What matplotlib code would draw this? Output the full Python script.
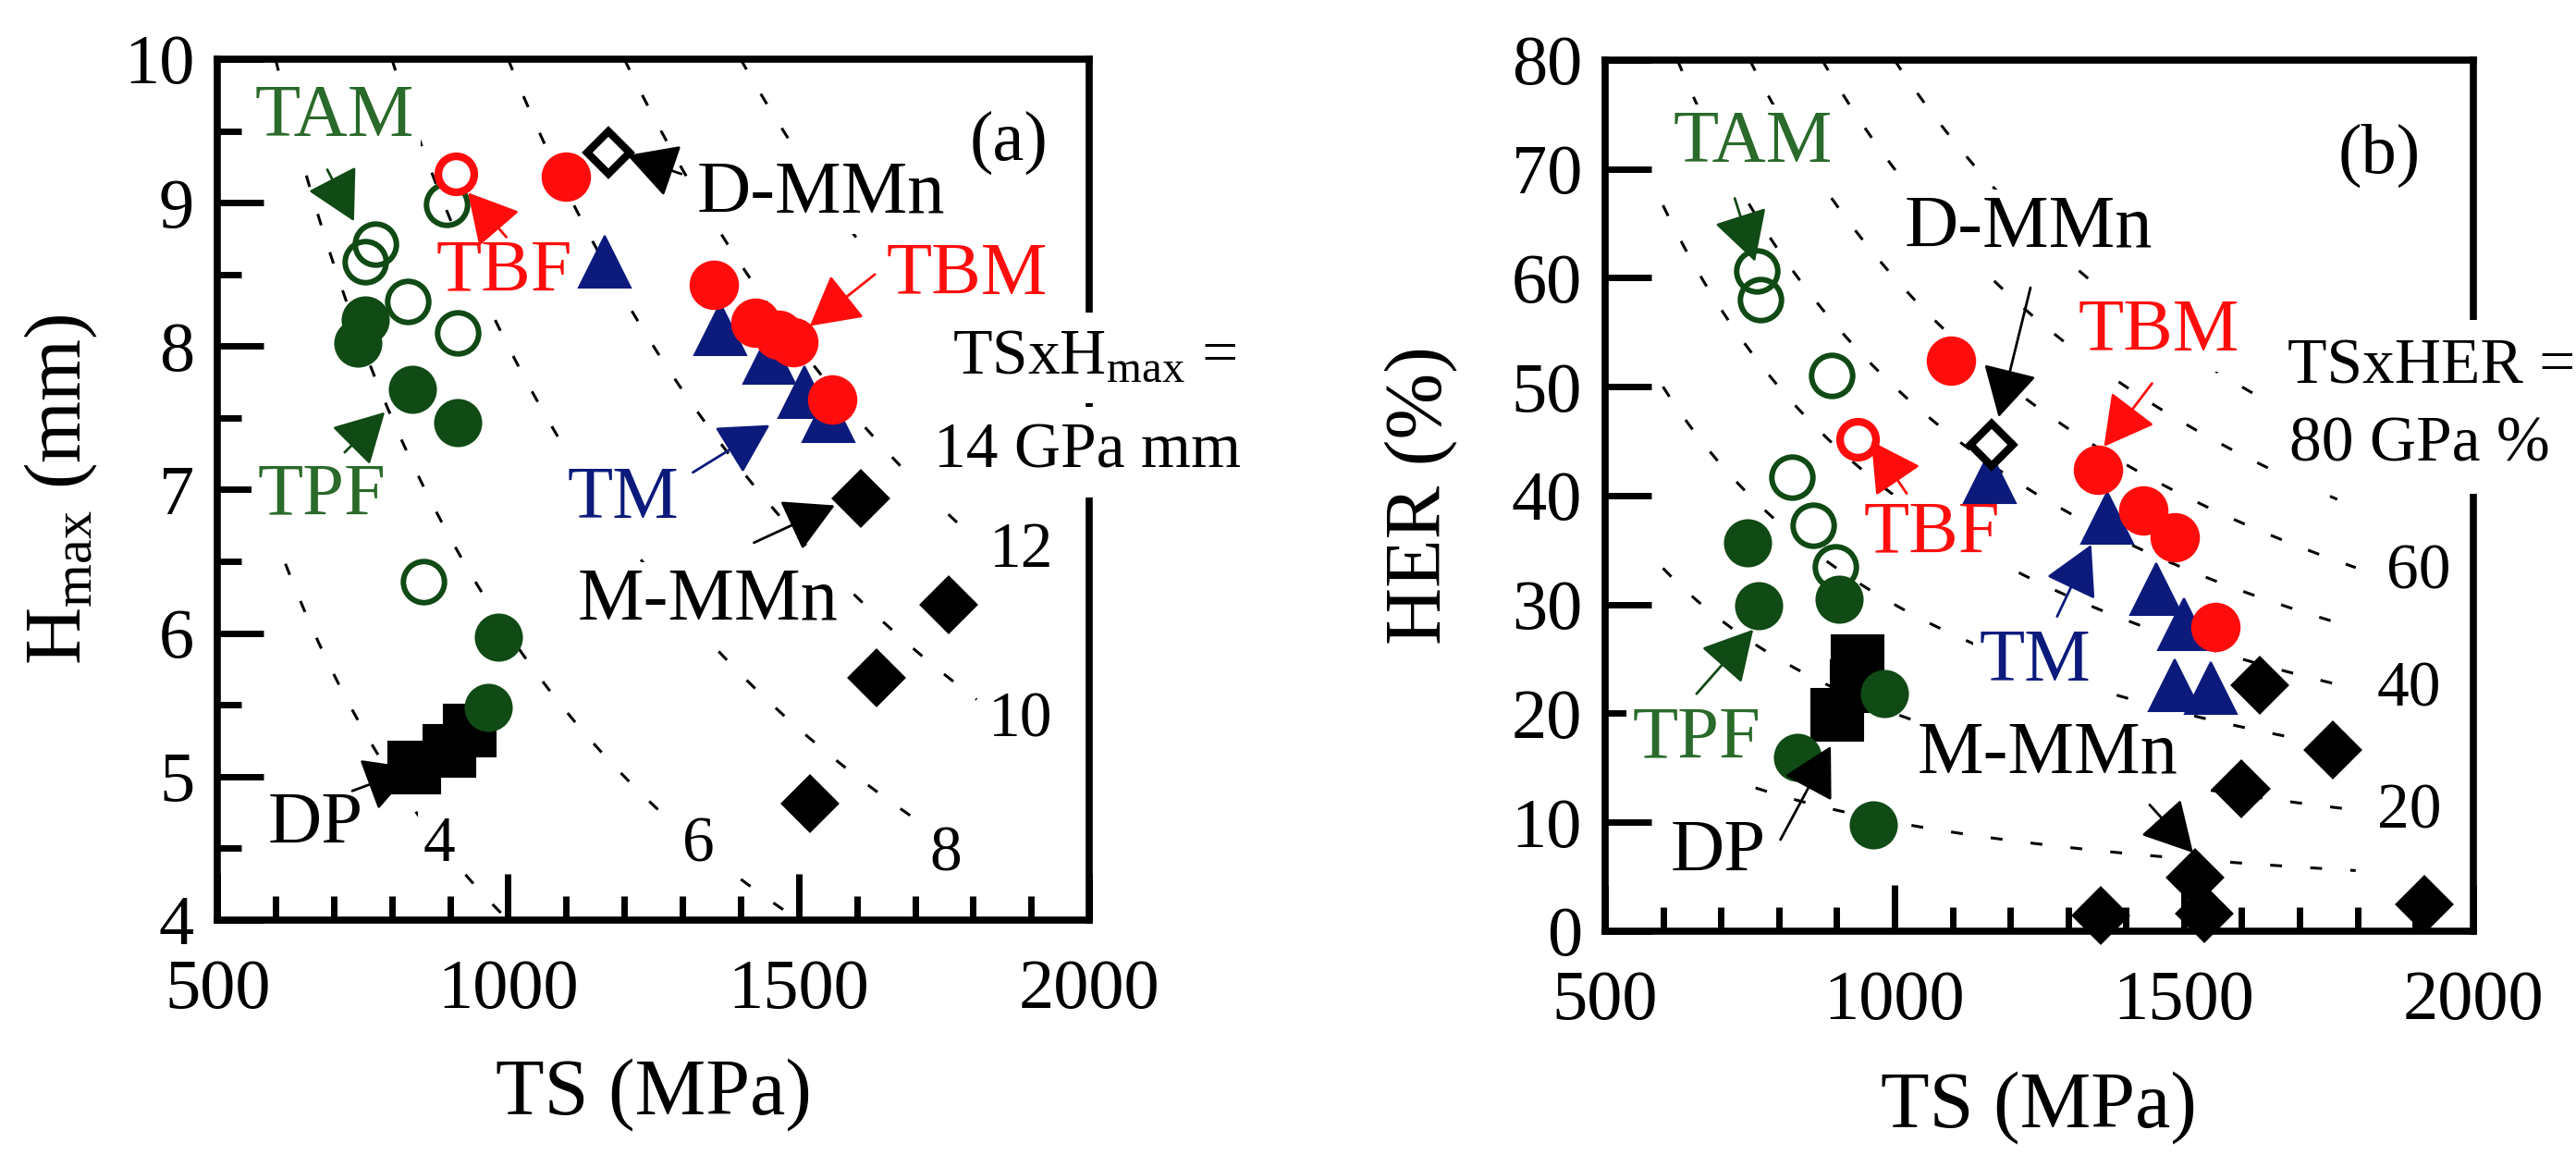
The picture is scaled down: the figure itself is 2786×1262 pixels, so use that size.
import numpy as np
import matplotlib
matplotlib.use("Agg")
import matplotlib.pyplot as plt

plt.rcParams['font.family'] = ['Liberation Serif', 'DejaVu Serif']
plt.rcParams['mathtext.fontset'] = 'custom'
plt.rcParams['mathtext.rm'] = 'Liberation Serif'
plt.rcParams['mathtext.it'] = 'Liberation Serif:italic'

GREEN = '#104a14'
GREEN_TXT = '#2a6a2a'
RED = '#ff0d0d'
BLUE = '#0c1a7c'

# ---------------- panel (a): TS vs Hmax ----------------
a_tam_ts = [772, 755, 894, 828, 914, 854]
a_tam_h = [8.71, 8.59, 8.99, 8.31, 8.09, 6.36]
a_tpf_ts = [755, 742, 835, 914, 984, 966]
a_tpf_h = [8.18, 8.02, 7.70, 7.47, 5.97, 5.48]
a_tbf_ts = [910]
a_tbf_h = [9.2]
a_tbm_ts = [1099, 1354, 1426, 1466, 1490, 1557]
a_tbm_h = [9.18, 8.43, 8.16, 8.08, 8.03, 7.63]
a_tm_ts = [1166, 1365, 1450, 1509, 1551]
a_tm_h = [8.59, 8.12, 7.92, 7.68, 7.51]
a_dmmn_ts = [1172]
a_dmmn_h = [9.35]
a_mmmn_ts = [1607, 1758, 1634, 1519]
a_mmmn_h = [6.94, 6.20, 5.69, 4.81]
a_dp_ts = [838, 899, 934]
a_dp_h = [5.06, 5.18, 5.32]

a_levels = [4, 6, 8, 10, 12, 14]          # TS x Hmax, GPa mm
a_lev_start = [617, 600, 800, 1000, 1200, 1400]
a_lev_end = [1000, 1500, 1722, 1806, 1797, 1620]

# ---------------- panel (b): TS vs HER ----------------
b_tam_ts = [762, 768, 891, 823, 859, 898]
b_tam_her = [60.6, 58.0, 51.0, 41.7, 37.3, 33.5]
b_tpf_ts = [746, 765, 905, 982, 832, 964]
b_tpf_her = [35.7, 29.9, 30.5, 21.8, 16.0, 9.8]
b_tbf_ts = [936]
b_tbf_her = [45.2]
b_tbm_ts = [1097, 1351, 1430, 1484, 1554]
b_tbm_her = [52.4, 42.4, 38.6, 36.2, 27.9]
b_tm_ts = [1164, 1367, 1453, 1500, 1484, 1546]
b_tm_her = [41.7, 38.0, 31.4, 28.2, 22.6, 22.3]
b_dmmn_ts = [1168]
b_dmmn_her = [44.7]
b_mmmn_ts = [1632, 1757, 1600, 1356, 1519, 1535, 1916]
b_mmmn_her = [22.6, 16.6, 13.1, 1.4, 4.9, 1.6, 2.5]
b_dp_ts = [936, 935, 901]
b_dp_her = [24.8, 22.5, 19.9]

b_levels = [10, 20, 30, 40, 50, 60, 70, 80]   # TS x HER, GPa %
b_lev_start = [760, 600, 600, 600, 625, 750, 875, 1000]
b_lev_end = [1797, 1797, 1720, 1773, 1781, 1797, 1765, 1656]

# annotation text: (text, x, y, colour)
a_labels = [('TAM', 702, 9.59, GREEN_TXT), ('TPF', 679, 6.95, GREEN_TXT),
            ('TBF', 993, 8.51, RED), ('D-MMn', 1538, 9.06, 'k'),
            ('TBM', 1789, 8.49, RED), ('TM', 1198, 6.93, BLUE),
            ('M-MMn', 1343, 6.22, 'k'), ('DP', 669, 4.66, 'k')]
b_labels = [('TAM', 756, 72.3, GREEN_TXT), ('TPF', 658, 17.6, GREEN_TXT),
            ('TBF', 1065, 36.4, RED), ('D-MMn', 1231, 64.5, 'k'),
            ('TBM', 1457, 55.0, RED), ('TM', 1243, 24.7, BLUE),
            ('M-MMn', 1265, 16.2, 'k'), ('DP', 696, 7.2, 'k')]
a_lev_labels = [('4', 882, 4.52), ('6', 1327, 4.52), ('8', 1753, 4.45),
                ('10', 1881, 5.39), ('12', 1883, 6.57)]
b_lev_labels = [('60', 1905, 32.9), ('40', 1889, 22.1), ('20', 1889, 10.9)]

# arrows: (tail_x, tail_y, tip_x, tip_y, colour)
a_arrows = [(689, 9.23, 735, 8.87, GREEN), (719, 7.26, 788, 7.54, GREEN),
            (997, 8.76, 931, 9.07, RED), (1298, 9.20, 1205, 9.33, 'k'),
            (1631, 8.50, 1519, 8.14, RED), (1318, 7.12, 1450, 7.45, BLUE),
            (1423, 6.63, 1562, 6.89, 'k'), (732, 4.90, 838, 5.06, 'k')]
b_arrows = [(724, 67.3, 759, 61.5, GREEN), (658, 21.8, 756, 27.7, GREEN),
            (1021, 40.2, 960, 45.0, RED), (1235, 59.1, 1180, 47.2, 'k'),
            (1445, 50.3, 1362, 44.5, RED), (1281, 28.9, 1340, 35.5, BLUE),
            (1441, 11.6, 1516, 7.2, 'k'), (803, 8.4, 890, 17.0, 'k')]

WHITE_BOX = dict(boxstyle='square,pad=0.08', fc='white', ec='none')


def style_axes(ax):
    for sp in ax.spines.values():
        sp.set_linewidth(5.5)
    ax.tick_params(which='both', direction='in', width=5, top=False, right=False,
                   labelsize=55)
    ax.tick_params(which='major', length=36)
    ax.tick_params(which='minor', length=19)
    ax.tick_params(axis='x', pad=30)
    ax.tick_params(axis='y', pad=18)
    ax.set_xlim(500, 2000)
    ax.set_xticks([500, 1000, 1500, 2000])
    ax.set_xticks(np.arange(600, 2000, 100), minor=True)
    ax.set_xlabel('TS (MPa)', fontsize=62)
    ax.xaxis.set_label_coords(0.5, -0.16)


def iso_lines(ax, levels, starts, ends):
    for c, t0, t1 in zip(levels, starts, ends):
        ts = np.linspace(t0, t1, 300)
        ax.plot(ts, c * 1000.0 / ts, color='k', lw=2.2, dashes=(4.2, 10),
                zorder=1)


def series(ax, x, y, marker, ms, fc, ec, mew=1.5):
    ax.plot(x, y, ls='none', marker=marker, ms=ms, mfc=fc, mec=ec, mew=mew,
            zorder=4, clip_on=False)


def arrows(ax, items):
    for x0, y0, x1, y1, col in items:
        ax.annotate('', xy=(x1, y1), xytext=(x0, y0), zorder=5,
                    arrowprops=dict(arrowstyle='-|>,head_length=1.0,head_width=0.55',
                                    color=col, lw=2, mutation_scale=34,
                                    shrinkA=0, shrinkB=0))


def labels(ax, items, size=58):
    for s, x, y, col in items:
        ax.text(x, y, s, color=col, fontsize=size, ha='center', va='center',
                bbox=WHITE_BOX, zorder=3)


fig = plt.figure(figsize=(27.86, 12.62), dpi=100)
ax1 = fig.add_axes([0.0844, 0.2116, 0.3385, 0.7377])
ax2 = fig.add_axes([0.6231, 0.2021, 0.3370, 0.7464])

# ---- (a)
style_axes(ax1)
ax1.set_ylim(4, 10)
ax1.set_yticks(np.arange(4, 11, 1))
ax1.set_yticks(np.arange(4.5, 10, 0.5), minor=True)
ax1.set_ylabel('H$_{\\rm max}$ (mm)', fontsize=62)
ax1.yaxis.set_label_coords(-0.135, 0.5)
iso_lines(ax1, a_levels, a_lev_start, a_lev_end)
series(ax1, a_dp_ts, a_dp_h, 's', 40, 'k', 'k')
series(ax1, a_tam_ts, a_tam_h, 'o', 32, 'none', GREEN, 4.3)
series(ax1, a_tpf_ts, a_tpf_h, 'o', 36, GREEN, GREEN)
series(ax1, a_tbf_ts, a_tbf_h, 'o', 28, 'white', RED, 6)
series(ax1, a_tm_ts, a_tm_h, '^', 40, BLUE, BLUE)
series(ax1, a_tbm_ts, a_tbm_h, 'o', 37, RED, RED)
series(ax1, a_mmmn_ts, a_mmmn_h, 'D', 30, 'k', 'k', 3)
series(ax1, a_dmmn_ts, a_dmmn_h, 'D', 23, 'white', 'k', 6)
arrows(ax1, a_arrows)
labels(ax1, a_labels)
for s, x, y in a_lev_labels:
    ax1.text(x, y, s, fontsize=50, ha='center', va='center', bbox=WHITE_BOX,
             zorder=3)
ax1.text(1862, 9.42, '(a)', fontsize=55, ha='center', va='center', zorder=3)
ax1.text(1765, 7.92, 'TSxH$_{\\rm max}$ =', fontsize=50, ha='left', va='center',
         bbox=dict(boxstyle='square,pad=0.25', fc='white', ec='none'),
         zorder=3, clip_on=False)
ax1.text(1733, 7.26, '14 GPa mm', fontsize=50, ha='left', va='center',
         bbox=dict(boxstyle='square,pad=0.25', fc='white', ec='none'),
         zorder=3, clip_on=False)

# ---- (b)
style_axes(ax2)
ax2.set_ylim(0, 80)
ax2.set_yticks(np.arange(0, 81, 10))
ax2.set_ylabel('HER (%)', fontsize=62)
ax2.yaxis.set_label_coords(-0.17, 0.5)
iso_lines(ax2, b_levels, b_lev_start, b_lev_end)
series(ax2, b_dp_ts, b_dp_her, 's', 40, 'k', 'k')
series(ax2, b_tam_ts, b_tam_her, 'o', 32, 'none', GREEN, 4.3)
series(ax2, b_tpf_ts, b_tpf_her, 'o', 36, GREEN, GREEN)
series(ax2, b_tbf_ts, b_tbf_her, 'o', 28, 'white', RED, 6)
series(ax2, b_tm_ts, b_tm_her, '^', 40, BLUE, BLUE)
series(ax2, b_tbm_ts, b_tbm_her, 'o', 37, RED, RED)
series(ax2, b_mmmn_ts, b_mmmn_her, 'D', 30, 'k', 'k', 3)
series(ax2, b_dmmn_ts, b_dmmn_her, 'D', 23, 'white', 'k', 6)
arrows(ax2, b_arrows)
labels(ax2, b_labels)
for s, x, y in b_lev_labels:
    ax2.text(x, y, s, fontsize=50, ha='center', va='center', bbox=WHITE_BOX,
             zorder=3)
ax2.text(1837, 71.2, '(b)', fontsize=55, ha='center', va='center', zorder=3)
ax2.text(1679, 51.7, 'TSxHER =', fontsize=50, ha='left', va='center',
         bbox=dict(boxstyle='square,pad=0.3', fc='white', ec='none'),
         zorder=3, clip_on=False)
ax2.text(1683, 44.6, '80 GPa %', fontsize=50, ha='left', va='center',
         bbox=dict(boxstyle='square,pad=0.3', fc='white', ec='none'),
         zorder=3, clip_on=False)

fig.savefig('out.png', dpi=100, facecolor='white')
